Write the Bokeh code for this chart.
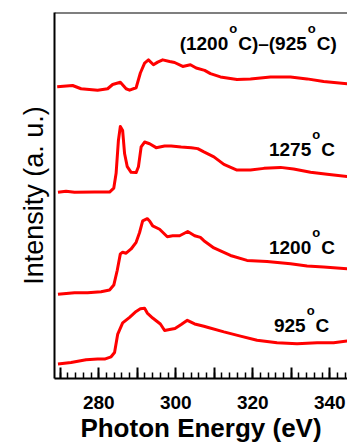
from bokeh.plotting import figure
from bokeh.models import Range1d, FixedTicker, Span, Label
from bokeh.embed import file_html
from bokeh.resources import INLINE

# ---- data (photon energy in eV, intensity in arbitrary units) ----
diff_e = [269.2, 273.2, 275.4, 279.7, 282.3, 283.6, 285.6, 287.1, 288.0, 289.7, 290.8, 291.9,
          292.9, 294.2, 295.3, 296.6, 298.4, 299.7, 301.8, 303.8, 305.3, 307.5, 309.0, 311.6,
          315.9, 319.4, 324.6, 329.8, 334.1, 338.4, 344.5]
diff_i = [295.7, 297.0, 293.7, 292.3, 293.7, 298.0, 300.3, 293.7, 292.3, 294.7, 309.7, 319.7,
          323.0, 318.0, 320.7, 323.0, 321.3, 320.3, 316.3, 318.0, 314.7, 312.3, 309.0, 305.7,
          303.0, 303.7, 305.7, 305.7, 303.7, 301.0, 298.7]

t1275_e = [269.4, 271.5, 273.7, 278.9, 282.8, 283.9, 284.5, 285.1, 285.6, 286.2, 286.7, 287.4,
           288.4, 289.7, 290.3, 291.0, 291.9, 293.2, 294.9, 297.1, 298.8, 301.4, 304.0, 305.7,
           307.3, 309.9, 312.5, 315.9, 319.4, 322.9, 327.2, 330.6, 335.0, 339.3, 344.5]
t1275_i = [188.7, 189.7, 188.7, 189.0, 189.0, 193.0, 208.0, 241.3, 255.5, 251.3, 228.0, 214.7,
           209.0, 208.7, 214.7, 234.7, 239.7, 238.0, 234.0, 235.7, 235.7, 234.7, 234.0, 233.0,
           229.7, 224.7, 217.0, 211.3, 211.3, 213.0, 214.0, 212.3, 209.0, 207.0, 204.7]

t1200_e = [269.4, 273.7, 277.1, 280.6, 282.8, 283.9, 284.8, 285.6, 286.2, 287.1, 288.4, 289.7,
           290.6, 291.4, 292.6, 293.2, 294.0, 295.8, 297.8, 299.2, 301.0, 303.1, 304.9, 306.4,
           307.3, 309.9, 314.2, 318.5, 323.7, 329.8, 334.1, 338.4, 344.5]
t1200_i = [85.3, 87.0, 87.0, 88.0, 89.7, 94.7, 109.7, 126.3, 128.0, 127.0, 131.3, 138.0,
           148.0, 159.7, 162.0, 159.7, 154.7, 151.3, 143.7, 144.7, 144.7, 149.0, 144.7, 143.0,
           139.7, 132.3, 124.7, 119.7, 118.7, 116.3, 114.0, 113.0, 111.3]

t925_e = [269.4, 272.8, 276.7, 279.7, 281.5, 283.2, 284.1, 284.9, 286.2, 288.0, 289.7, 290.8,
          291.9, 292.6, 294.0, 296.0, 297.1, 298.4, 299.8, 301.4, 303.0, 304.9, 307.3, 308.2,
          312.5, 316.8, 321.1, 326.3, 331.5, 336.7, 341.0, 344.5]
t925_i = [14.7, 16.3, 19.0, 19.7, 19.7, 22.0, 26.3, 44.7, 56.3, 62.0, 68.0, 70.7,
          71.3, 66.3, 61.3, 55.3, 48.7, 49.7, 50.7, 54.7, 59.0, 55.3, 53.0, 52.0,
          47.3, 43.0, 38.7, 36.3, 35.3, 36.3, 36.3, 38.0]

major_ticks = [270, 280, 290, 300, 310, 320, 330, 340]
tick_labels = {270: "", 280: "280", 290: "", 300: "300", 310: "", 320: "320", 330: "", 340: "340"}
minor_ticks = list(range(268, 346, 2))

x_title = "Photon Energy (eV)"
y_title = "Intensity (a. u.)"

# curve labels: anchor (x, baseline y) and pieces (text, is_superscript)
curve_labels = [
    (301.0, 340.0, [("(1200", False), ("o", True), ("C)\u2013(925", False), ("o", True), ("C)", False)]),
    (324.2, 232.0, [("1275", False), ("o", True), ("C", False)]),
    (324.2, 133.0, [("1200", False), ("o", True), ("C", False)]),
    (325.5, 54.0, [("925", False), ("o", True), ("C", False)]),
]

MAIN_PX = 19
SUP_PX = 13
# Arial/Liberation Sans Bold advance widths (em)
ADV = {"0": .556, "1": .556, "2": .556, "3": .556, "4": .556, "5": .556, "6": .556, "7": .556,
       "8": .556, "9": .556, "(": .333, ")": .333, "C": .722, "o": .611, "\u2013": .556}


def text_width(s, px):
    return sum(ADV.get(c, .6) for c in s) * px


X0, X1 = 268.5, 344.6
Y0, Y1 = 0, 371

p = figure(width=347, height=445, output_backend="svg", toolbar_location=None,
           title=y_title, title_location="left",
           x_range=Range1d(X0, X1), y_range=Range1d(Y0, Y1),
           min_border_left=54, min_border_right=0, min_border_top=12, min_border_bottom=62)
p.outline_line_color = None
p.xgrid.visible = False
p.ygrid.visible = False
p.background_fill_color = "white"
p.border_fill_color = "white"

# y-axis title drawn as the (left-side) title
p.title.align = "center"
p.title.offset = -25
p.title.standoff = 12
p.title.text_font = "Liberation Sans"
p.title.text_font_style = "normal"
p.title.text_font_size = "27px"
p.title.text_color = "black"

red = "#ff0000"
for e, i in [(diff_e, diff_i), (t1275_e, t1275_i), (t1200_e, t1200_i), (t925_e, t925_i)]:
    p.line(e, i, line_color=red, line_width=3, line_join="round")

# top border
p.add_layout(Span(location=Y1, dimension="width", line_color="black", line_width=2))

xa = p.xaxis[0]
xa.ticker = FixedTicker(ticks=major_ticks, minor_ticks=minor_ticks)
xa.major_label_overrides = tick_labels
xa.axis_line_width = 2
xa.axis_line_color = "black"
xa.major_tick_in = 11
xa.major_tick_out = 0
xa.minor_tick_in = 6
xa.minor_tick_out = 0
xa.major_tick_line_width = 2
xa.minor_tick_line_width = 1.5
xa.major_tick_line_color = "black"
xa.minor_tick_line_color = "black"
xa.major_label_text_font = "Liberation Sans"
xa.major_label_text_font_style = "bold"
xa.major_label_text_font_size = "19px"
xa.major_label_text_color = "black"
xa.major_label_standoff = 17
xa.axis_label = x_title
xa.axis_label_text_font = "Liberation Sans"
xa.axis_label_text_font_style = "bold"
xa.axis_label_text_font_size = "26px"
xa.axis_label_text_color = "black"
xa.axis_label_standoff = 1

ya = p.yaxis[0]
ya.ticker = FixedTicker(ticks=[])
ya.major_tick_line_color = None
ya.minor_tick_line_color = None
ya.major_label_text_font_size = "0px"
ya.axis_line_width = 2
ya.axis_line_color = "black"

for x, y, pieces in curve_labels:
    off = 0.0
    for text, sup in pieces:
        px = SUP_PX if sup else MAIN_PX
        if sup:
            off += 1
        p.add_layout(Label(x=x, y=y, x_offset=off, y_offset=15 if sup else 0, text=text,
                           text_font="Liberation Sans", text_font_style="bold",
                           text_font_size=f"{px}px", text_color="black",
                           text_align="left", text_baseline="alphabetic"))
        off += text_width(text, px) + (1 if sup else 0)

open("out.html", "w").write(file_html(p, INLINE))
